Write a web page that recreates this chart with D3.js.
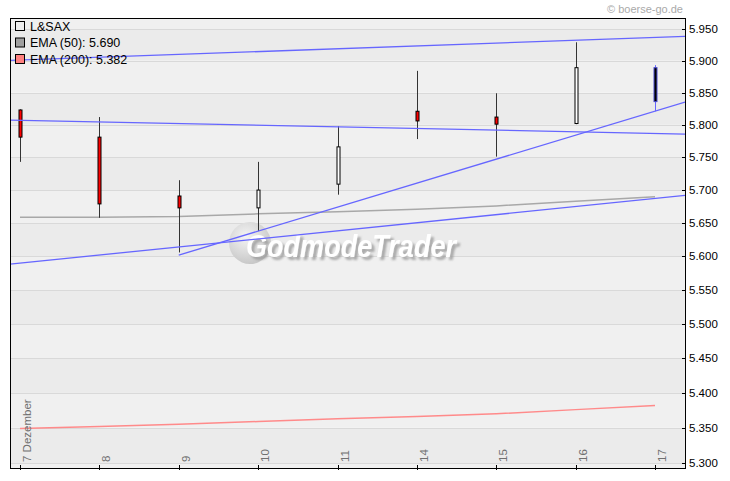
<!DOCTYPE html>
<html><head><meta charset="utf-8">
<script src="https://cdn.jsdelivr.net/npm/d3@7"></script>
<style>body{margin:0;background:#fff}svg{display:block}</style>
</head><body>
<script>
const categories = ["7 Dezember","8","9","10","11","14","15","16","17"];
const openV  = [5.823, 5.781, 5.691, 5.673, 5.709, 5.821, 5.812, 5.802, 5.836];
const highV  = [5.824, 5.812, 5.715, 5.743, 5.798, 5.884, 5.849, 5.929, 5.893];
const lowV   = [5.743, 5.658, 5.606, 5.638, 5.693, 5.778, 5.751, 5.801, 5.821];
const closeV = [5.781, 5.679, 5.673, 5.700, 5.766, 5.806, 5.801, 5.889, 5.889];
const ema50  = [5.659, 5.659, 5.660, 5.664, 5.667, 5.671, 5.676, 5.683, 5.690];
const ema200 = [5.349, 5.352, 5.355, 5.359, 5.363, 5.366, 5.370, 5.376, 5.382];
// trendlines: [startIndex, startValue, endIndex, endValue]
const trendlines = [
  [-0.126, 5.9004, 8.378, 5.9383],
  [-0.126, 5.8073, 8.378, 5.7857],
  [2, 5.602, 8.378, 5.8352],
  [-0.126, 5.5886, 8.378, 5.6918]
];
const yTicks = [5.30,5.35,5.40,5.45,5.50,5.55,5.60,5.65,5.70,5.75,5.80,5.85,5.90,5.95];
const legendItems = [
  {label:"L&SAX", color:"#eeeeee"},
  {label:"EMA (50): 5.690", color:"#a0a0a0"},
  {label:"EMA (200): 5.382", color:"#ff8080"}
];

const W=730,H=481;
const L=10,R=685,T=18,B=468;
const svg=d3.select("body").append("svg").attr("width",W).attr("height",H);
const x=d3.scaleLinear().domain([0,categories.length-1]).range([20,655]);
const y=d3.scaleLog().domain([5.293,5.9675]).range([B,T]);
const font="'Liberation Sans', Arial, sans-serif";

const defs=svg.append("defs");
defs.append("clipPath").attr("id","clip")
  .append("rect").attr("x",L).attr("y",T).attr("width",R-L).attr("height",B-T);
const rg=defs.append("radialGradient").attr("id","ball").attr("cx","40%").attr("cy","35%").attr("r","65%");
rg.append("stop").attr("offset","0%").attr("stop-color","#f4f4f4");
rg.append("stop").attr("offset","100%").attr("stop-color","#c8c8c8");
defs.append("filter").attr("id","shadow").attr("x","-10%").attr("y","-20%").attr("width","130%").attr("height","160%")
  .append("feDropShadow").attr("dx",3).attr("dy",3).attr("stdDeviation",1.2).attr("flood-color","#999").attr("flood-opacity",0.8);

// background bands
const bandEdges=[5.293].concat(yTicks).concat([5.9675]);
svg.append("g").selectAll("rect").data(d3.range(bandEdges.length-1)).join("rect")
  .attr("x",L).attr("width",R-L)
  .attr("y",i=>y(bandEdges[i+1])).attr("height",i=>y(bandEdges[i])-y(bandEdges[i+1]))
  .attr("fill",i=>i%2===1?"#ebebeb":"#f0f0f0");

// grid
svg.append("g").selectAll("line").data(yTicks).join("line")
  .attr("x1",L).attr("x2",R).attr("y1",d=>Math.round(y(d))+0.5).attr("y2",d=>Math.round(y(d))+0.5)
  .attr("stroke","#d9d9d9").attr("stroke-width",1);

// watermark
const wm=svg.append("g");
wm.append("circle").attr("cx",250).attr("cy",243).attr("r",21).attr("fill","url(#ball)");
wm.append("text").attr("x",246).attr("y",257).text("GodmodeTrader")
  .attr("font-family",font).attr("font-size",32).attr("font-weight","bold").attr("font-style","italic")
  .attr("textLength",210).attr("lengthAdjust","spacingAndGlyphs").attr("fill","#ffffff")
  .attr("filter","url(#shadow)");

// EMA lines
const lineGen=d3.line().x((d,i)=>x(i)).y(d=>y(d));
svg.append("path").datum(ema50).attr("d",lineGen).attr("fill","none").attr("stroke","#a8a8a8").attr("stroke-width",1.5);
svg.append("path").datum(ema200).attr("d",lineGen).attr("fill","none").attr("stroke","#ff8a8a").attr("stroke-width",1.5);

// candles
const n=categories.length;
const cg=svg.append("g");
d3.range(n).forEach(i=>{
  const cx=Math.round(x(i))+0.5;
  const last=i===n-1;
  cg.append("line").attr("x1",cx).attr("x2",cx).attr("y1",y(highV[i])).attr("y2",y(lowV[i]))
    .attr("stroke",last?"#6666ff":"#333").attr("stroke-width",1);
  const top=y(Math.max(openV[i],closeV[i])), bot=y(Math.min(openV[i],closeV[i]));
  const down=closeV[i]<openV[i];
  cg.append("rect").attr("x",cx-1.5).attr("y",top).attr("width",3).attr("height",Math.max(1,bot-top))
    .attr("fill",last?"#000":(down?"#ff0000":"#ffffff")).attr("stroke",last?"#4a4acc":"#000").attr("stroke-width",1);
});

// trendlines
svg.append("g").attr("clip-path","url(#clip)").selectAll("line").data(trendlines).join("line")
  .attr("x1",d=>x(d[0])).attr("y1",d=>y(d[1])).attr("x2",d=>x(d[2])).attr("y2",d=>y(d[3]))
  .attr("stroke","#6666ff").attr("stroke-width",1.3);

// frame
svg.append("rect").attr("x",L+0.5).attr("y",T+0.5).attr("width",R-L).attr("height",B-T)
  .attr("fill","none").attr("stroke","#000").attr("stroke-width",1);

// y axis
const ya=svg.append("g");
ya.selectAll("line").data(yTicks).join("line")
  .attr("x1",R-3).attr("x2",R+1).attr("y1",d=>Math.round(y(d))+0.5).attr("y2",d=>Math.round(y(d))+0.5)
  .attr("stroke","#000");
ya.selectAll("text").data(yTicks).join("text")
  .attr("x",R+4).attr("y",d=>y(d)+4).text(d=>d3.format(".3f")(d))
  .attr("font-family",font).attr("font-size",11.5).attr("fill","#000");

// x axis
const xa=svg.append("g");
xa.selectAll("line").data(categories).join("line")
  .attr("x1",(d,i)=>Math.round(x(i))+0.5).attr("x2",(d,i)=>Math.round(x(i))+0.5)
  .attr("y1",B-3).attr("y2",B+2).attr("stroke","#000");
xa.selectAll("text").data(categories).join("text")
  .attr("transform",(d,i)=>`translate(${Math.round(x(i))+11},462) rotate(-90)`)
  .text(d=>d).attr("font-family",font).attr("font-size",11.5).attr("fill","#707070");

// legend
const lg=svg.append("g");
legendItems.forEach((it,k)=>{
  const cy=26+k*16.5;
  lg.append("rect").attr("x",15.5).attr("y",cy-4.5).attr("width",9).attr("height",9)
    .attr("fill",it.color).attr("stroke","#000");
  lg.append("text").attr("x",30).attr("y",cy+4.5).text(it.label)
    .attr("font-family",font).attr("font-size",12.5).attr("fill","#000");
});

// copyright
svg.append("text").attr("x",683).attr("y",13).attr("text-anchor","end").text("© boerse-go.de")
  .attr("font-family",font).attr("font-size",11).attr("fill","#aaaaaa");
</script>
</body></html>
